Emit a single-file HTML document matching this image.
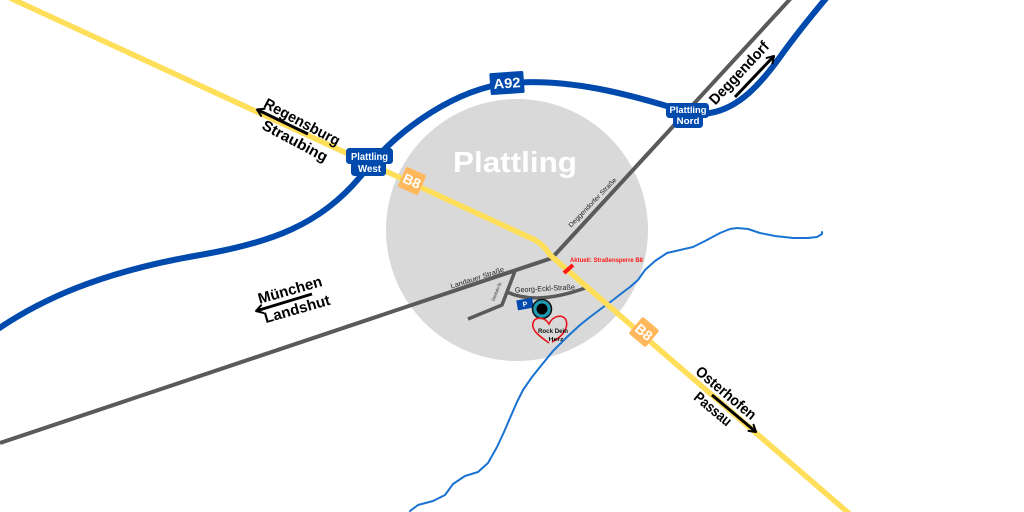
<!DOCTYPE html>
<html><head><meta charset="utf-8"><style>
html,body{margin:0;padding:0;background:#fff;}
svg{display:block;}
text{font-family:"Liberation Sans",sans-serif;}
</style></head><body>
<svg width="1024" height="512" viewBox="0 0 1024 512" xmlns="http://www.w3.org/2000/svg">
<defs>
<marker id="ah" viewBox="0 0 10 10" refX="8" refY="5" markerWidth="10" markerHeight="10" markerUnits="userSpaceOnUse" orient="auto">
<path d="M1.5,1 L8,5 L1.5,9" fill="none" stroke="#000" stroke-width="2" stroke-linecap="round" stroke-linejoin="round"/>
</marker>
</defs>
<rect width="1024" height="512" fill="#fff"/>
<!-- town circle -->
<circle cx="517" cy="230" r="131" fill="#d9d9d9"/>
<!-- river -->
<polyline fill="none" stroke="#1a73d1" stroke-width="2" stroke-linejoin="round" stroke-linecap="round" points="410,511 418,505 433,501 445,495 453,484 465,476 478,472 488,463 497,447 504,432 510,418 517,402 523,390 532,377 540,367 553,351 567,337 580,325 590,317 602,308 613,300 622,293 630,287 638,280 645,270 655,261 667,253 680,250 693,247 705,241 720,233 730,229 737,228 748,229 760,233 775,236 793,238 808,238 817,237 822,234 822,232"/>
<!-- gray road -->
<polyline fill="none" stroke="#5a5a5a" stroke-width="4" stroke-linejoin="round" points="0,443 552,258 792,-3"/>
<!-- side road -->
<polyline fill="none" stroke="#5a5a5a" stroke-width="3.5" stroke-linejoin="round" points="515,271 502,305 468,319"/>
<path d="M507,292 Q537,306 588,287" fill="none" stroke="#5a5a5a" stroke-width="3.5"/>
<!-- B8 yellow -->
<path d="M10,-2 L535,240 Q545,246 550,255 L852,516" fill="none" stroke="#ffde59" stroke-width="5.5" stroke-linejoin="round"/>
<!-- A92 blue -->
<path d="M-5,331 C40,300 100,272 200,255 C270,243 320,225 360,177 C400,125 460,88 510,83 C570,78 630,95 670,107 C690,113 700,116 710,113 C740,108 762,82 780,57 C795,36 812,15 828,-4" fill="none" stroke="#004aad" stroke-width="6"/>
<!-- street labels -->
<text transform="translate(478,280) rotate(-18)" text-anchor="middle" font-size="7" fill="#222" textLength="56" lengthAdjust="spacingAndGlyphs">Landauer Straße</text>
<text transform="translate(594,204) rotate(-46)" text-anchor="middle" font-size="6.5" fill="#222" textLength="66" lengthAdjust="spacingAndGlyphs">Deggendorfer Straße</text>
<text transform="translate(545,291) rotate(-3)" text-anchor="middle" font-size="7.5" fill="#222" textLength="60" lengthAdjust="spacingAndGlyphs">Georg-Eckl-Straße</text>
<text transform="translate(498,292) rotate(-68)" text-anchor="middle" font-size="4.5" fill="#222" textLength="20" lengthAdjust="spacingAndGlyphs">Eisenbahn Str.</text>
<!-- road closure -->
<line x1="564" y1="273" x2="573" y2="265" stroke="#ff1616" stroke-width="4"/>
<text x="570" y="262" font-size="6.5" font-weight="bold" fill="#ff1616" textLength="73" lengthAdjust="spacingAndGlyphs">Aktuell: Straßensperre B8</text>
<!-- P sign -->
<g transform="translate(525,304) rotate(-10)">
<rect x="-8" y="-5" width="16" height="10" fill="#004aad"/>
<text x="0" y="2.5" text-anchor="middle" font-size="7" font-weight="bold" fill="#fff">P</text>
</g>
<!-- marker -->
<circle cx="542" cy="309" r="9.5" fill="#1e9bb3" stroke="#111" stroke-width="1.5"/>
<circle cx="542" cy="309" r="5.5" fill="#000"/>
<!-- heart logo -->
<path d="M549,343 C541,337 531,331 533,323 C535,316 545,317 549,324 C553,315 563,314 566,320 C569,328 562,337 552,342" fill="none" stroke="#e8141b" stroke-width="1.6"/>
<text x="553" y="333" text-anchor="middle" font-size="6" font-weight="bold" fill="#111" textLength="30" lengthAdjust="spacingAndGlyphs">Rock Dein</text>
<text x="556" y="341" text-anchor="middle" font-size="5.5" font-weight="bold" fill="#111" textLength="15" lengthAdjust="spacingAndGlyphs">Herz</text>
<!-- Plattling title -->
<text x="515" y="172" text-anchor="middle" font-size="29" font-weight="bold" fill="#fff" textLength="124" lengthAdjust="spacingAndGlyphs">Plattling</text>
<!-- B8 badges -->
<g transform="translate(412,181) rotate(24)">
<rect x="-11" y="-11" width="22" height="22" rx="2" fill="#ffb85c"/>
<text x="0" y="5" text-anchor="middle" font-size="14" font-weight="bold" fill="#fff">B8</text>
</g>
<g transform="translate(644,332) rotate(40)">
<rect x="-11" y="-11" width="22" height="22" rx="2" fill="#ffb85c"/>
<text x="0" y="5" text-anchor="middle" font-size="14" font-weight="bold" fill="#fff">B8</text>
</g>
<!-- A92 badge -->
<g transform="translate(507,83) rotate(-4)">
<rect x="-17" y="-11" width="34" height="22" rx="1.5" fill="#004aad"/>
<text x="0" y="5" text-anchor="middle" font-size="14" font-weight="bold" fill="#fff" textLength="27" lengthAdjust="spacingAndGlyphs">A92</text>
</g>
<!-- Plattling West -->
<rect x="346" y="148" width="47" height="16" rx="3.5" fill="#004aad"/>
<rect x="351" y="160" width="35" height="16" rx="3.5" fill="#004aad"/>
<text x="369.5" y="160" text-anchor="middle" font-size="10" font-weight="bold" fill="#fff" textLength="37" lengthAdjust="spacingAndGlyphs">Plattling</text>
<text x="369.5" y="172" text-anchor="middle" font-size="10" font-weight="bold" fill="#fff" textLength="23" lengthAdjust="spacingAndGlyphs">West</text>
<!-- Plattling Nord -->
<rect x="666" y="103" width="43" height="15" rx="3.5" fill="#004aad"/>
<rect x="673" y="113" width="30" height="15" rx="3.5" fill="#004aad"/>
<text x="688" y="113" text-anchor="middle" font-size="9.5" font-weight="bold" fill="#fff" textLength="37" lengthAdjust="spacingAndGlyphs">Plattling</text>
<text x="688" y="124" text-anchor="middle" font-size="9.5" font-weight="bold" fill="#fff" textLength="23" lengthAdjust="spacingAndGlyphs">Nord</text>
<!-- direction arrows -->
<line x1="308" y1="134" x2="257" y2="109.5" stroke="#000" stroke-width="3" marker-end="url(#ah)"/>
<line x1="312" y1="294" x2="256" y2="311" stroke="#000" stroke-width="3" marker-end="url(#ah)"/>
<line x1="735" y1="97" x2="774" y2="56" stroke="#000" stroke-width="3" marker-end="url(#ah)"/>
<line x1="712" y1="395" x2="756" y2="432" stroke="#000" stroke-width="3" marker-end="url(#ah)"/>
<!-- direction labels -->
<g font-size="15" font-weight="bold" fill="#000" text-anchor="middle">
<text transform="translate(302,122) rotate(28)" dy="5" textLength="84" lengthAdjust="spacingAndGlyphs">Regensburg</text>
<text transform="translate(295,141) rotate(28)" dy="5" textLength="72" lengthAdjust="spacingAndGlyphs">Straubing</text>
<text transform="translate(290,290) rotate(-16)" dy="5" textLength="66" lengthAdjust="spacingAndGlyphs">München</text>
<text transform="translate(297,309) rotate(-16)" dy="5" textLength="68" lengthAdjust="spacingAndGlyphs">Landshut</text>
<text transform="translate(739,73) rotate(-47)" dy="5" textLength="80" lengthAdjust="spacingAndGlyphs">Deggendorf</text>
<text transform="translate(726,393) rotate(40)" dy="5" textLength="74" lengthAdjust="spacingAndGlyphs">Osterhofen</text>
<text transform="translate(713,409) rotate(40)" dy="5" textLength="44" lengthAdjust="spacingAndGlyphs">Passau</text>
</g>
</svg>
</body></html>
